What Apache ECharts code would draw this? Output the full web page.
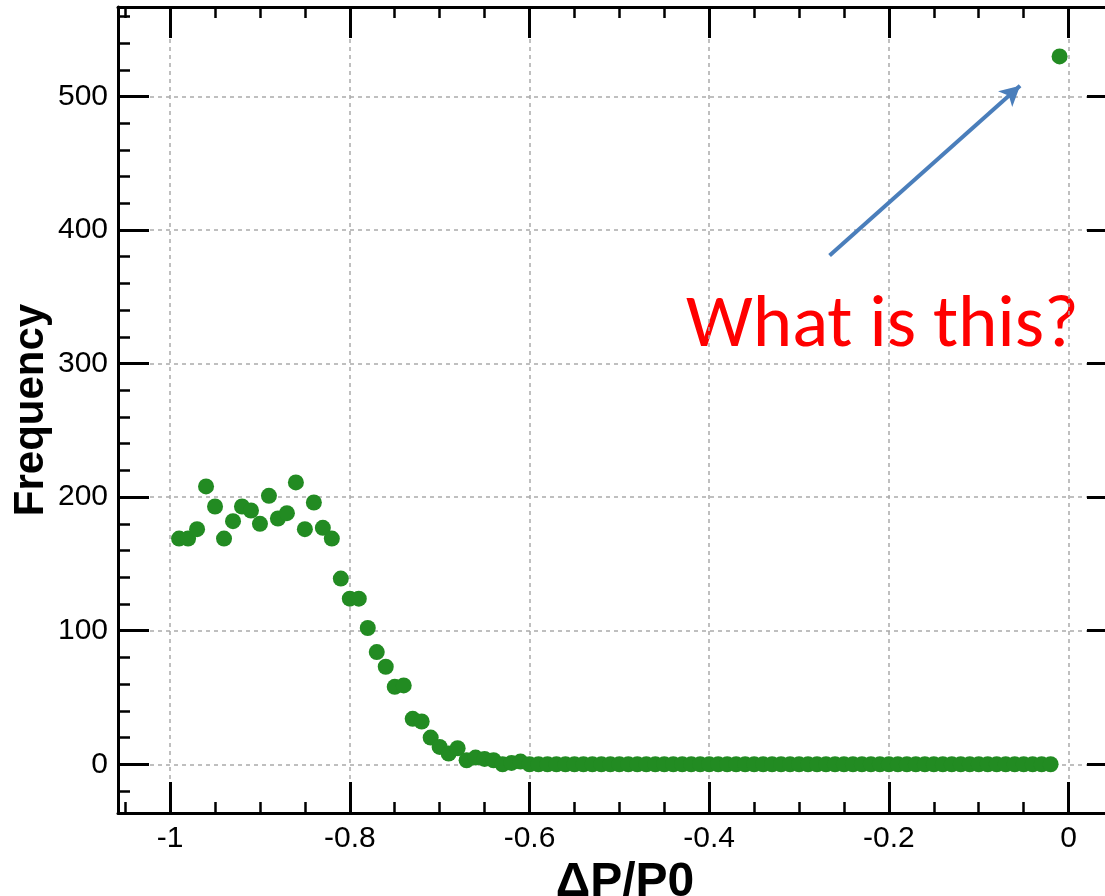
<!DOCTYPE html>
<html>
<head>
<meta charset="utf-8">
<script src="https://cdn.jsdelivr.net/npm/echarts@6/dist/echarts.min.js"></script>
<style>
html,body{margin:0;padding:0;background:#fff;}
#chart{width:1105px;height:896px;}
</style>
</head>
<body>
<div id="chart"></div>
<script>
// ---- data ----
const dpValues = [
  -0.99,-0.98,-0.97,-0.96,-0.95,-0.94,-0.93,-0.92,-0.91,-0.90,
  -0.89,-0.88,-0.87,-0.86,-0.85,-0.84,-0.83,-0.82,-0.81,-0.80,
  -0.79,-0.78,-0.77,-0.76,-0.75,-0.74,-0.73,-0.72,-0.71,-0.70,
  -0.69,-0.68,-0.67,-0.66,-0.65,-0.64,-0.63,-0.62,-0.61,-0.60,
  -0.59,-0.58,-0.57,-0.56,-0.55,-0.54,-0.53,-0.52,-0.51,-0.50,
  -0.49,-0.48,-0.47,-0.46,-0.45,-0.44,-0.43,-0.42,-0.41,-0.40,
  -0.39,-0.38,-0.37,-0.36,-0.35,-0.34,-0.33,-0.32,-0.31,-0.30,
  -0.29,-0.28,-0.27,-0.26,-0.25,-0.24,-0.23,-0.22,-0.21,-0.20,
  -0.19,-0.18,-0.17,-0.16,-0.15,-0.14,-0.13,-0.12,-0.11,-0.10,
  -0.09,-0.08,-0.07,-0.06,-0.05,-0.04,-0.03,-0.02,-0.01
];
const frequency = [
  169,169,176,208,193,169,182,193,190,180,
  201,184,188,211,176,196,177,169,139,124,
  124,102,84,73,58,59,34,32,20,13,
  8,12,3,5,4,3,0,1,2,0,
  0,0,0,0,0,0,0,0,0,0,
  0,0,0,0,0,0,0,0,0,0,
  0,0,0,0,0,0,0,0,0,0,
  0,0,0,0,0,0,0,0,0,0,
  0,0,0,0,0,0,0,0,0,0,
  0,0,0,0,0,0,0,0,530
];
const xTitle = 'ΔP/P0';
const yTitle = 'Frequency';
const noteText = 'What is this?';
const arrowFrom = [-0.266, 381];
const arrowTo = [-0.054, 508];

const points = dpValues.map((x, i) => [x, frequency[i]]);

const lbl = {fontFamily: 'Liberation Sans, Arial, sans-serif', fontSize: 30, color: '#000'};
const axisLineStyle = {color: '#000', width: 3};
const xRange = {min: -1.058, max: 0.055};
const yRange = {min: -36.5, max: 567};

function isMult(v, step) {
  const r = v / step;
  return Math.abs(r - Math.round(r)) < 1e-6;
}

const xCommon = {
  type: 'value', min: xRange.min, max: xRange.max,
  splitNumber: 5, minInterval: 0.2, maxInterval: 0.2,
  axisLine: {show: true, onZero: false, lineStyle: axisLineStyle},
  axisTick: {show: true, inside: true, length: 31, lineStyle: {color: '#000', width: 3}},
  minorTick: {show: true, splitNumber: 4, length: 11, lineStyle: {color: '#000', width: 2.5}},
};
const yCommon = {
  type: 'value', min: yRange.min, max: yRange.max,
  splitNumber: 6, minInterval: 100, maxInterval: 100,
  axisLine: {show: true, onZero: false, lineStyle: axisLineStyle},
  axisTick: {show: true, inside: true, length: 31, lineStyle: {color: '#000', width: 3}},
  minorTick: {show: true, splitNumber: 5, length: 12, lineStyle: {color: '#000', width: 2.5}},
};

const chart = echarts.init(document.getElementById('chart'), null, {renderer: 'canvas'});
chart.setOption({
  animation: false,
  backgroundColor: '#fff',
  grid: {left: 118, top: 7, right: -13, bottom: 83, containLabel: false, outerBoundsMode: 'none'},
  xAxis: [
    Object.assign({}, xCommon, {
      position: 'bottom',
      name: xTitle, nameLocation: 'middle', nameGap: 41,
      nameTextStyle: {fontFamily: 'Liberation Sans, Arial, sans-serif', fontWeight: 'bold', fontSize: 48, color: '#000', padding: [0, 0, 0, 14]},
      axisLabel: Object.assign({}, lbl, {margin: 11,
        formatter: v => isMult(v, 0.2) ? String(Math.round(v * 10) / 10) : ''}),
      splitLine: {show: true, lineStyle: {color: '#aaa', width: 1.5, type: [4, 4]}}
    }),
    Object.assign({}, xCommon, {
      position: 'top',
      axisLabel: {show: false},
      splitLine: {show: false}
    })
  ],
  yAxis: [
    Object.assign({}, yCommon, {
      position: 'left',
      name: yTitle, nameLocation: 'middle', nameGap: 66, nameRotate: 90, nameMoveOverlap: false,
      nameTextStyle: {fontFamily: 'Liberation Sans, Arial, sans-serif', fontWeight: 'bold', fontSize: 42, color: '#000'},
      axisLabel: Object.assign({}, lbl, {margin: 10,
        formatter: v => (isMult(v, 100) && v >= 0) ? String(Math.round(v)) : ''}),
      splitLine: {show: true, lineStyle: {color: '#aaa', width: 1.5, type: [4, 4]}}
    }),
    Object.assign({}, yCommon, {
      position: 'right',
      axisLabel: {show: false},
      splitLine: {show: false}
    })
  ],
  series: [{
    type: 'scatter',
    xAxisIndex: 0, yAxisIndex: 0,
    data: points,
    symbol: 'circle',
    symbolSize: 16,
    itemStyle: {color: '#228b22', opacity: 1},
    z: 5,
    markLine: {
      silent: true,
      symbol: ['none', 'arrow'],
      symbolSize: [16, 20],
      label: {show: false},
      lineStyle: {color: '#4a7ebb', width: 4, type: 'solid'},
      data: [[{coord: arrowFrom}, {coord: arrowTo}]],
      animation: false
    }
  }],
  graphic: [{
    type: 'text',
    left: 686, top: 290,
    style: {text: noteText, fontFamily: 'Carlito, Lato, sans-serif', fontSize: 75, fill: '#ff0000'}
  }]
});
</script>
</body>
</html>
